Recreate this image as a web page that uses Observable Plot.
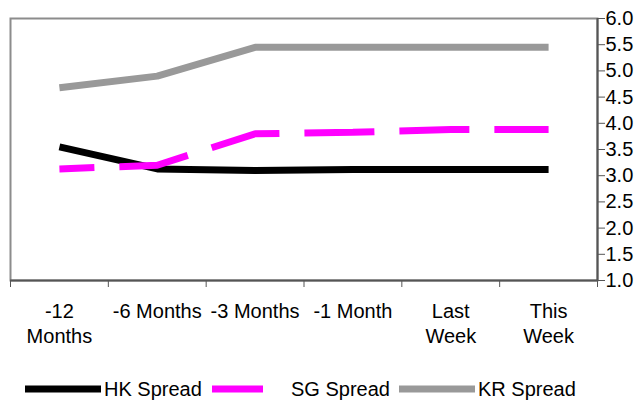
<!DOCTYPE html>
<html>
<head>
<meta charset="utf-8">
<script src="https://cdn.jsdelivr.net/npm/d3@7"></script>
<script src="https://cdn.jsdelivr.net/npm/@observablehq/plot@0.6"></script>
<style>
  html, body { margin: 0; padding: 0; background: #fff; }
  #chart { width: 640px; height: 400px; font-family: 'Liberation Sans', Arial, sans-serif; }
  #chart svg { display: block; }
</style>
</head>
<body>
<div id="chart"></div>
<script>
// ---- data ----
const categories = ["-12 Months", "-6 Months", "-3 Months", "-1 Month", "Last Week", "This Week"];
const tickLabels = ["-12\nMonths", "-6 Months", "-3 Months", "-1 Month", "Last\nWeek", "This\nWeek"];
const hkSpread = [3.55, 3.13, 3.10, 3.12, 3.12, 3.12];
const sgSpread = [3.13, 3.20, 3.80, 3.83, 3.88, 3.88];
const krSpread = [4.68, 4.90, 5.45, 5.45, 5.45, 5.45];
const yTicks = [1.0, 1.5, 2.0, 2.5, 3.0, 3.5, 4.0, 4.5, 5.0, 5.5, 6.0];
const seriesNames = ["HK Spread", "SG Spread", "KR Spread"];
const seriesColors = ["#000000", "#ff00ff", "#999999"];
const seriesDash = [null, "70,25", null];

const seriesValues = [hkSpread, sgSpread, krSpread];
const rows = seriesValues.map((vals, s) =>
  categories.map((c, i) => ({series: seriesNames[s], category: c, i, value: vals[i]}))
);
const n = categories.length;
const boundaries = d3.range(-0.5, n, 1);

const font = "'Liberation Sans', Arial, sans-serif";

const chart = Plot.plot({
  width: 640,
  height: 350,
  marginTop: 18,
  marginBottom: 70,
  marginLeft: 10,
  marginRight: 43,
  style: {fontFamily: font, fontSize: "20px", color: "#000", background: "#fff"},
  x: {type: "linear", domain: [-0.5, n - 0.5]},
  y: {domain: [1, 6]},
  marks: [
    Plot.frame({stroke: "#8c8c8c", strokeWidth: 2}),
    Plot.ruleY([1], {stroke: "#555555", strokeWidth: 2}),
    Plot.ruleX([n - 0.5], {stroke: "#555555", strokeWidth: 2}),
    Plot.axisY({anchor: "right", ticks: yTicks, tickFormat: d3.format(".1f"), tickSize: 7, tickPadding: 1,
      stroke: "#555555", fill: "#000", fontSize: 20, label: null}),
    Plot.axisX({ticks: boundaries, tickSize: 7, tickFormat: () => "", stroke: "#555555", label: null}),
    Plot.axisX({ticks: d3.range(n), tickSize: 0, tickPadding: 20, tickFormat: i => tickLabels[i],
      lineHeight: 1.25, fontSize: 20, fill: "#000", label: null}),
    ...rows.map((data, s) => Plot.line(data, {
      x: "i", y: "value",
      stroke: seriesColors[s], strokeWidth: 7,
      strokeLinecap: "butt", strokeLinejoin: "miter",
      strokeDasharray: seriesDash[s] || undefined,
      strokeDashoffset: seriesDash[s] ? 35 : undefined
    }))
  ]
});

const container = document.getElementById("chart");
container.appendChild(chart);

// ---- legend ----
const legend = d3.create("svg").attr("width", 640).attr("height", 50)
  .style("display", "block").style("font-family", font);
const itemStart = 25, itemStep = 187, sampleLen = 76, legendY = 39;
seriesNames.forEach((name, s) => {
  const x0 = itemStart + s * itemStep;
  legend.append("line")
    .attr("x1", x0).attr("x2", x0 + sampleLen)
    .attr("y1", legendY).attr("y2", legendY)
    .attr("stroke", seriesColors[s]).attr("stroke-width", 7)
    .attr("stroke-dasharray", seriesDash[s])
    .attr("stroke-dashoffset", seriesDash[s] ? 19 : null);
  legend.append("text")
    .attr("x", x0 + sampleLen + 3).attr("y", legendY)
    .attr("dy", "0.35em")
    .attr("font-size", 20).attr("fill", "#000")
    .text(name);
});
container.appendChild(legend.node());
</script>
</body>
</html>
